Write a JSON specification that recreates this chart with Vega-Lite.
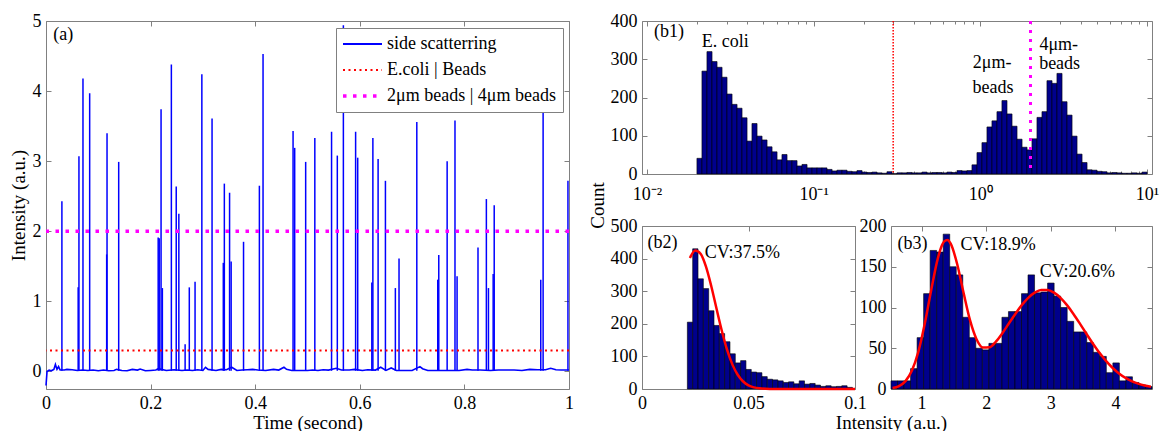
{
  "$schema": "https://vega.github.io/schema/vega-lite/v6.json",
  "background": "white",
  "padding": {"left": 8, "top": 11, "right": 0, "bottom": 0},
  "bounds": "flush",
  "spacing": 73,
  "config": {
    "font": "Liberation Serif",
    "view": {"stroke": "#808080", "strokeWidth": 1},
    "axis": {
      "grid": false, "domain": false, "tickColor": "#808080", "tickWidth": 1, "tickSize": -5,
      "labelPadding": 10, "labelFont": "Liberation Serif", "labelFontSize": 18, "labelColor": "#000",
      "titleFont": "Liberation Serif", "titleFontSize": 19, "titleFontWeight": "normal", "titleColor": "#000",
      "labelFlush": false, "labelOverlap": false
    },
    "axisX": {"labelPadding": 10},
    "text": {"font": "Liberation Serif", "fontSize": 18, "color": "#000"}
  },
  "hconcat": [
    {
      "width": 523, "height": 368,
      "layer": [
        {
          "data": {"values": [
            {"t":0,"v":-0.2},{"t":0.002,"v":0.0},{"t":0.006,"v":0.02},{"t":0.01,"v":0.01},{"t":0.015,"v":0.03},{"t":0.018,"v":0.1},{"t":0.021,"v":0.03},{"t":0.024,"v":0.07},{"t":0.027,"v":0.02},{"t":0.035,"v":0.02},{"t":0.04,"v":0.03},{"t":0.05,"v":0.025},{"t":0.06,"v":0.015},{"t":0.07,"v":0.02},{"t":0.08,"v":0.015},{"t":0.09,"v":0.02},{"t":0.1,"v":0.01},{"t":0.11,"v":0.02},{"t":0.12,"v":0.01},{"t":0.13,"v":0.015},{"t":0.135,"v":0.03},{"t":0.145,"v":0.015},{"t":0.155,"v":0.01},{"t":0.165,"v":0.03},{"t":0.175,"v":0.02},{"t":0.18,"v":0.035},{"t":0.19,"v":0.01},{"t":0.2,"v":0.015},{"t":0.21,"v":0.02},{"t":0.215,"v":0.04},{"t":0.23,"v":0.015},{"t":0.245,"v":0.025},{"t":0.26,"v":0.015},{"t":0.27,"v":0.02},{"t":0.28,"v":0.015},{"t":0.29,"v":0.025},{"t":0.3,"v":0.015},{"t":0.305,"v":0.06},{"t":0.31,"v":0.03},{"t":0.325,"v":0.015},{"t":0.335,"v":0.03},{"t":0.345,"v":0.025},{"t":0.355,"v":0.06},{"t":0.365,"v":0.015},{"t":0.375,"v":0.02},{"t":0.385,"v":0.025},{"t":0.395,"v":0.03},{"t":0.405,"v":0.02},{"t":0.42,"v":0.015},{"t":0.435,"v":0.03},{"t":0.445,"v":0.02},{"t":0.455,"v":0.06},{"t":0.46,"v":0.03},{"t":0.47,"v":0.015},{"t":0.485,"v":0.015},{"t":0.5,"v":0.015},{"t":0.51,"v":0.02},{"t":0.52,"v":0.015},{"t":0.53,"v":0.025},{"t":0.54,"v":0.02},{"t":0.555,"v":0.045},{"t":0.565,"v":0.02},{"t":0.58,"v":0.02},{"t":0.59,"v":0.03},{"t":0.605,"v":0.015},{"t":0.615,"v":0.025},{"t":0.63,"v":0.02},{"t":0.64,"v":0.06},{"t":0.65,"v":0.015},{"t":0.66,"v":0.05},{"t":0.67,"v":0.015},{"t":0.685,"v":0.015},{"t":0.7,"v":0.015},{"t":0.715,"v":0.07},{"t":0.72,"v":0.04},{"t":0.73,"v":0.015},{"t":0.745,"v":0.015},{"t":0.76,"v":0.015},{"t":0.775,"v":0.015},{"t":0.79,"v":0.015},{"t":0.805,"v":0.03},{"t":0.815,"v":0.02},{"t":0.83,"v":0.02},{"t":0.85,"v":0.015},{"t":0.865,"v":0.02},{"t":0.88,"v":0.02},{"t":0.895,"v":0.02},{"t":0.91,"v":0.015},{"t":0.925,"v":0.03},{"t":0.94,"v":0.025},{"t":0.955,"v":0.025},{"t":0.965,"v":0.045},{"t":0.975,"v":0.025},{"t":0.985,"v":0.02},{"t":1.0,"v":0.02}
          ]},
          "mark": {"type": "line", "strokeWidth": 1.6},
          "encoding": {
            "x": {"field": "t", "type": "quantitative", "scale": {"domain": [0, 1], "nice": false},
                  "axis": {"values": [0, 0.2, 0.4, 0.6, 0.8, 1], "format": "~g", "title": "Time (second)", "titleY": 33.5, "titleBaseline": "middle"}},
            "y": {"field": "v", "type": "quantitative", "scale": {"domain": [-0.25, 5], "nice": false, "zero": false},
                  "axis": {"values": [0, 1, 2, 3, 4, 5], "title": "Intensity (a.u.)", "titleX": -28, "titleBaseline": "middle"}},
            "color": {"datum": "side scatterring", "type": "nominal", "title": null,
                      "scale": {"domain": ["side scatterring", "E.coli | Beads", "2μm beads | 4μm beads"], "range": ["#0000ff", "#ff0000", "#ff00ff"]},
                      "legend": {
                        "orient": "none", "legendX": 290, "legendY": 7, "title": null,
                        "symbolType": "M-3.9,0H3.9", "symbolSize": 100, "symbolStrokeWidth": 2, "symbolOffset": 10.5,
                        "labelOffset": 15.6, "labelFont": "Liberation Serif", "labelFontSize": 18, "labelLimit": 400, "labelColor": "#000",
                        "rowPadding": 8, "padding": 7, "strokeColor": "#808080", "fillColor": "white", "cornerRadius": 0,
                        "encode": {"symbols": {"update": {
                          "strokeDash": {"signal": "datum.value === 'E.coli | Beads' ? [2, 3.5] : datum.value === '2μm beads | 4μm beads' ? [3.5, 6.5] : [1, 0]"},
                          "strokeWidth": {"signal": "datum.value === '2μm beads | 4μm beads' ? 3.5 : 2"},
                          "fill": {"value": "transparent"}
                        }}}
                      }}
          }
        },
        {
          "data": {"values": [
            {"t":0.0304,"p":2.43},{"t":0.0615,"p":1.2},{"t":0.063,"p":3.07},{"t":0.0707,"p":4.18},{"t":0.0835,"p":3.97},{"t":0.116,"p":1.67},{"t":0.1167,"p":3.4},{"t":0.139,"p":2.99},{"t":0.2145,"p":1.91},{"t":0.2165,"p":1.9},{"t":0.22,"p":3.74},{"t":0.2225,"p":1.19},{"t":0.2397,"p":4.38},{"t":0.249,"p":2.64},{"t":0.254,"p":2.25},{"t":0.266,"p":0.39},{"t":0.274,"p":1.2},{"t":0.285,"p":1.28},{"t":0.298,"p":4.24},{"t":0.3175,"p":3.61},{"t":0.339,"p":1.55},{"t":0.341,"p":2.68},{"t":0.351,"p":2.55},{"t":0.354,"p":1.57},{"t":0.3777,"p":1.85},{"t":0.408,"p":2.65},{"t":0.415,"p":4.53},{"t":0.4724,"p":3.43},{"t":0.4755,"p":3.19},{"t":0.4965,"p":2.99},{"t":0.514,"p":3.33},{"t":0.546,"p":3.42},{"t":0.557,"p":3.08},{"t":0.5686,"p":4.94},{"t":0.592,"p":3.42},{"t":0.596,"p":3.05},{"t":0.623,"p":1.27},{"t":0.625,"p":3.33},{"t":0.635,"p":3.03},{"t":0.649,"p":2.72},{"t":0.668,"p":1.19},{"t":0.675,"p":1.61},{"t":0.709,"p":3.56},{"t":0.749,"p":1.31},{"t":0.751,"p":1.66},{"t":0.767,"p":3.0},{"t":0.782,"p":3.58},{"t":0.786,"p":1.36},{"t":0.826,"p":1.77},{"t":0.842,"p":2.46},{"t":0.846,"p":1.19},{"t":0.855,"p":1.39},{"t":0.857,"p":2.37},{"t":0.946,"p":1.31},{"t":0.9505,"p":3.92},{"t":0.998,"p":2.72}
          ]},
          "mark": {"type": "rule", "color": "#0000ff", "strokeWidth": 1.5},
          "encoding": {
            "x": {"field": "t", "type": "quantitative", "axis": null},
            "y": {"field": "p", "type": "quantitative", "axis": null},
            "y2": {"datum": 0.01}
          }
        },
        {
          "data": {"values": [{"y": 0.3, "s": "E.coli | Beads"}]},
          "mark": {"type": "rule", "strokeWidth": 2, "strokeDash": [2, 3.5]},
          "encoding": {"y": {"field": "y", "type": "quantitative", "axis": null}, "color": {"field": "s", "type": "nominal", "title": null}}
        },
        {
          "data": {"values": [{"y": 2, "s": "2μm beads | 4μm beads"}]},
          "mark": {"type": "rule", "strokeWidth": 3.5, "strokeDash": [3.5, 6.5]},
          "encoding": {"y": {"field": "y", "type": "quantitative", "axis": null}, "color": {"field": "s", "type": "nominal", "title": null}}
        },
        {
          "data": {"values": [{"t": 0.014, "v": 4.8, "label": "(a)"}]},
          "mark": {"type": "text", "align": "left", "baseline": "middle"},
          "encoding": {"x": {"field": "t", "type": "quantitative", "axis": null}, "y": {"field": "v", "type": "quantitative", "axis": null}, "text": {"field": "label"}}
        },
        {
          "data": {"values": [{"t": 0.5, "v": 1}]},
          "mark": {"type": "point", "opacity": 0},
          "encoding": {
            "x": {"field": "t", "type": "quantitative", "axis": {"orient": "top", "labels": false, "title": null, "values": [0, 0.2, 0.4, 0.6, 0.8, 1]}},
            "y": {"field": "v", "type": "quantitative", "axis": {"orient": "right", "labels": false, "title": null, "values": [0, 1, 2, 3, 4, 5]}}
          }
        }
      ],
      "resolve": {"axis": {"x": "independent", "y": "independent"}}
    },
    {
      "bounds": "flush",
      "spacing": 52,
      "vconcat": [
        {
          "width": 510, "height": 153,
          "layer": [
            {
              "data": {"values": [
                {"x":0.02065,"n":41},{"x":0.02213,"n":269},{"x":0.02371,"n":320},{"x":0.02541,"n":294},{"x":0.02723,"n":279},{"x":0.02917,"n":253},{"x":0.03126,"n":209},{"x":0.0335,"n":182},{"x":0.03589,"n":172},{"x":0.03846,"n":147},{"x":0.04121,"n":86},{"x":0.04416,"n":132},{"x":0.04732,"n":99},{"x":0.0507,"n":89},{"x":0.05433,"n":71},{"x":0.05821,"n":58},{"x":0.06237,"n":37},{"x":0.06683,"n":51},{"x":0.07161,"n":35},{"x":0.07674,"n":35},{"x":0.08222,"n":21},{"x":0.08811,"n":25},{"x":0.09441,"n":16},
                {"x":0.1012,"n":16},{"x":0.1084,"n":16},{"x":0.1161,"n":16},{"x":0.1245,"n":12},{"x":0.1334,"n":8},{"x":0.1429,"n":10},{"x":0.1531,"n":10},{"x":0.1641,"n":7},{"x":0.1758,"n":6},{"x":0.1884,"n":9},{"x":0.2018,"n":5},{"x":0.2163,"n":4},{"x":0.2317,"n":5},{"x":0.2483,"n":3},{"x":0.2661,"n":2},{"x":0.2851,"n":6},{"x":0.3055,"n":1},{"x":0.3273,"n":3},{"x":0.3508,"n":3},{"x":0.3758,"n":4},{"x":0.4027,"n":3},{"x":0.4315,"n":3},{"x":0.4624,"n":5},{"x":0.4955,"n":3},{"x":0.5309,"n":4},{"x":0.5689,"n":4},{"x":0.6095,"n":3},{"x":0.6531,"n":5},{"x":0.6998,"n":4},{"x":0.7499,"n":9},{"x":0.8035,"n":8},{"x":0.861,"n":9},{"x":0.9226,"n":24},{"x":0.9886,"n":56},
                {"x":1.059,"n":82},{"x":1.135,"n":123},{"x":1.216,"n":139},{"x":1.303,"n":163},{"x":1.396,"n":192},{"x":1.496,"n":157},{"x":1.603,"n":125},{"x":1.718,"n":91},{"x":1.841,"n":70},{"x":1.972,"n":63},{"x":2.114,"n":92},{"x":2.265,"n":148},{"x":2.427,"n":163},{"x":2.6,"n":244},{"x":2.786,"n":237},{"x":2.985,"n":263},{"x":3.199,"n":189},{"x":3.428,"n":154},{"x":3.673,"n":99},{"x":3.936,"n":52},{"x":4.217,"n":30},{"x":4.519,"n":11},{"x":4.842,"n":10},{"x":5.188,"n":7},{"x":5.559,"n":6},{"x":5.957,"n":3},{"x":6.383,"n":4},{"x":6.839,"n":3},{"x":7.328,"n":2},{"x":7.852,"n":2},{"x":8.414,"n":3},{"x":9.016,"n":2},{"x":9.661,"n":5}
              ]},
              "mark": {"type": "bar", "size": 5.1, "fill": "#00008c", "stroke": "#000000", "strokeWidth": 0.6},
              "encoding": {
                "x": {"field": "x", "type": "quantitative", "scale": {"type": "log", "domain": [0.01, 10], "nice": false},
                      "axis": {"values": [0.01,0.02,0.03,0.04,0.05,0.06,0.07,0.08,0.09,0.1,0.2,0.3,0.4,0.5,0.6,0.7,0.8,0.9,1,2,3,4,5,6,7,8,9,10],
                               "labelExpr": "datum.value == 0.01 ? '10⁻²' : datum.value == 0.1 ? '10⁻¹' : datum.value == 1 ? '10⁰' : datum.value == 10 ? '10¹' : ''",
                               "tickSize": {"condition": {"test": "datum.value == 0.01 || datum.value == 0.1 || datum.value == 1 || datum.value == 10", "value": -5}, "value": -3},
                               "labelPadding": 16,
                               "title": null}},
                "y": {"field": "n", "type": "quantitative", "scale": {"domain": [0, 400], "nice": false},
                      "axis": {"values": [0, 100, 200, 300, 400], "title": "Count", "titleX": -45, "titleY": 184, "titleBaseline": "middle"}},
                "y2": {"datum": 0}
              }
            },
            {
              "data": {"values": [{"x": 0.3}]},
              "mark": {"type": "rule", "color": "#ff0000", "strokeWidth": 1.5, "strokeDash": [1.5, 1.5]},
              "encoding": {"x": {"field": "x", "type": "quantitative", "axis": null}}
            },
            {
              "data": {"values": [{"x": 2}]},
              "mark": {"type": "rule", "color": "#ff00ff", "strokeWidth": 3, "strokeDash": [3, 6]},
              "encoding": {"x": {"field": "x", "type": "quantitative", "axis": null}}
            },
            {
              "data": {"values": [{"x": 0.011, "y": 371, "label": "(b1)"}, {"x": 0.0213, "y": 345, "label": "E. coli"}]},
              "mark": {"type": "text", "align": "left", "baseline": "middle"},
              "encoding": {"x": {"field": "x", "type": "quantitative", "axis": null}, "y": {"field": "y", "type": "quantitative", "axis": null}, "text": {"field": "label"}}
            },
            {
              "data": {"values": [{"x": 1.177, "y": 290, "label": "2μm-"}, {"x": 1.19, "y": 225, "label": "beads"}, {"x": 2.955, "y": 337, "label": "4μm-"}, {"x": 2.99, "y": 288, "label": "beads"}]},
              "mark": {"type": "text", "align": "center", "baseline": "middle"},
              "encoding": {"x": {"field": "x", "type": "quantitative", "axis": null}, "y": {"field": "y", "type": "quantitative", "axis": null}, "text": {"field": "label"}}
            },
            {
              "data": {"values": [{"x": 1, "n": 100}]},
              "mark": {"type": "point", "opacity": 0},
              "encoding": {
                "x": {"field": "x", "type": "quantitative", "axis": {"orient": "top", "labels": false, "title": null,
                      "values": [0.01,0.02,0.03,0.04,0.05,0.06,0.07,0.08,0.09,0.1,0.2,0.3,0.4,0.5,0.6,0.7,0.8,0.9,1,2,3,4,5,6,7,8,9,10],
                      "tickSize": {"condition": {"test": "datum.value == 0.01 || datum.value == 0.1 || datum.value == 1 || datum.value == 10", "value": -5}, "value": -3}}},
                "y": {"field": "n", "type": "quantitative", "axis": {"orient": "right", "labels": false, "title": null, "values": [0, 100, 200, 300, 400]}}
              }
            }
          ],
          "resolve": {"axis": {"x": "independent", "y": "independent"}}
        },
        {
          "bounds": "flush",
          "spacing": 36,
          "hconcat": [
            {
              "width": 213, "height": 163,
              "layer": [
                {
                  "data": {"values": [
                    {"lo":0.0213,"hi":0.0238,"n":205},{"lo":0.0238,"hi":0.0263,"n":430},{"lo":0.0263,"hi":0.0288,"n":338},{"lo":0.0288,"hi":0.0313,"n":308},{"lo":0.0313,"hi":0.0338,"n":240},{"lo":0.0338,"hi":0.0363,"n":195},{"lo":0.0363,"hi":0.0388,"n":170},{"lo":0.0388,"hi":0.0413,"n":145},{"lo":0.0413,"hi":0.0438,"n":108},{"lo":0.0438,"hi":0.0463,"n":80},{"lo":0.0463,"hi":0.0488,"n":87},{"lo":0.0488,"hi":0.0513,"n":60},{"lo":0.0513,"hi":0.0538,"n":52},{"lo":0.0538,"hi":0.0563,"n":50},{"lo":0.0563,"hi":0.0588,"n":38},{"lo":0.0588,"hi":0.0613,"n":30},{"lo":0.0613,"hi":0.0638,"n":28},{"lo":0.0638,"hi":0.0663,"n":25},{"lo":0.0663,"hi":0.0688,"n":20},{"lo":0.0688,"hi":0.0713,"n":22},{"lo":0.0713,"hi":0.0738,"n":16},{"lo":0.0738,"hi":0.0763,"n":25},{"lo":0.0763,"hi":0.0788,"n":15},{"lo":0.0788,"hi":0.0813,"n":17},{"lo":0.0813,"hi":0.0838,"n":12},{"lo":0.0838,"hi":0.0863,"n":8},{"lo":0.0863,"hi":0.0888,"n":10},{"lo":0.0888,"hi":0.0913,"n":7},{"lo":0.0913,"hi":0.0938,"n":8},{"lo":0.0938,"hi":0.0963,"n":10},{"lo":0.0963,"hi":0.0988,"n":5}
                  ]},
                  "mark": {"type": "bar", "fill": "#00008c", "stroke": "#000000", "strokeWidth": 0.6},
                  "encoding": {
                    "x": {"field": "lo", "type": "quantitative", "scale": {"domain": [0, 0.1], "nice": false},
                          "axis": {"values": [0, 0.05, 0.1], "format": "~g", "title": "Intensity (a.u.)", "titleX": 249, "titleY": 33.5, "titleBaseline": "middle"}},
                    "x2": {"field": "hi"},
                    "y": {"field": "n", "type": "quantitative", "scale": {"domain": [0, 500], "nice": false},
                          "axis": {"values": [0, 100, 200, 300, 400, 500], "title": null}},
                    "y2": {"datum": 0}
                  }
                },
                {
                  "data": {"values": [
                    {"x":0.0225,"y":402},{"x":0.025,"y":425},{"x":0.0275,"y":415},{"x":0.03,"y":376},{"x":0.0325,"y":316},{"x":0.035,"y":246},{"x":0.0375,"y":178},{"x":0.04,"y":119},{"x":0.0425,"y":74},{"x":0.045,"y":43},{"x":0.0475,"y":23},{"x":0.05,"y":11},{"x":0.0525,"y":5},{"x":0.055,"y":2},{"x":0.06,"y":0.3},{"x":0.07,"y":0},{"x":0.08,"y":0},{"x":0.09,"y":0},{"x":0.1,"y":0}
                  ]},
                  "mark": {"type": "line", "color": "#ff0000", "strokeWidth": 2.5, "interpolate": "monotone"},
                  "encoding": {"x": {"field": "x", "type": "quantitative", "axis": null}, "y": {"field": "y", "type": "quantitative", "axis": null}}
                },
                {
                  "data": {"values": [{"x": 0.0026, "y": 449, "label": "(b2)"}, {"x": 0.0295, "y": 418, "label": "CV:37.5%"}]},
                  "mark": {"type": "text", "align": "left", "baseline": "middle"},
                  "encoding": {"x": {"field": "x", "type": "quantitative", "axis": null}, "y": {"field": "y", "type": "quantitative", "axis": null}, "text": {"field": "label"}}
                },
                {
                  "data": {"values": [{"x": 0.05, "y": 100}]},
                  "mark": {"type": "point", "opacity": 0},
                  "encoding": {
                    "x": {"field": "x", "type": "quantitative", "axis": {"orient": "top", "labels": false, "title": null, "values": [0, 0.05, 0.1]}},
                    "y": {"field": "y", "type": "quantitative", "axis": {"orient": "right", "labels": false, "title": null, "values": [0, 100, 200, 300, 400, 500]}}
                  }
                }
              ],
              "resolve": {"axis": {"x": "independent", "y": "independent"}}
            },
            {
              "width": 261, "height": 163,
              "layer": [
                {
                  "data": {"values": [
                    {"lo":0.526,"hi":0.627,"n":10},{"lo":0.627,"hi":0.728,"n":10},{"lo":0.728,"hi":0.829,"n":10},{"lo":0.829,"hi":0.93,"n":25},{"lo":0.93,"hi":1.031,"n":63},{"lo":1.031,"hi":1.132,"n":117},{"lo":1.132,"hi":1.233,"n":170},{"lo":1.233,"hi":1.334,"n":168},{"lo":1.334,"hi":1.435,"n":190},{"lo":1.435,"hi":1.536,"n":150},{"lo":1.536,"hi":1.637,"n":140},{"lo":1.637,"hi":1.738,"n":88},{"lo":1.738,"hi":1.839,"n":63},{"lo":1.839,"hi":1.94,"n":50},{"lo":1.94,"hi":2.041,"n":48},{"lo":2.041,"hi":2.142,"n":56},{"lo":2.142,"hi":2.243,"n":56},{"lo":2.243,"hi":2.344,"n":88},{"lo":2.344,"hi":2.445,"n":95},{"lo":2.445,"hi":2.546,"n":95},{"lo":2.546,"hi":2.647,"n":117},{"lo":2.647,"hi":2.748,"n":140},{"lo":2.748,"hi":2.849,"n":118},{"lo":2.849,"hi":2.95,"n":119},{"lo":2.95,"hi":3.051,"n":130},{"lo":3.051,"hi":3.152,"n":114},{"lo":3.152,"hi":3.253,"n":100},{"lo":3.253,"hi":3.354,"n":83},{"lo":3.354,"hi":3.455,"n":70},{"lo":3.455,"hi":3.556,"n":70},{"lo":3.556,"hi":3.657,"n":57},{"lo":3.657,"hi":3.758,"n":45},{"lo":3.758,"hi":3.859,"n":40},{"lo":3.859,"hi":3.96,"n":20},{"lo":3.96,"hi":4.061,"n":32},{"lo":4.061,"hi":4.162,"n":10},{"lo":4.162,"hi":4.263,"n":15},{"lo":4.263,"hi":4.364,"n":8},{"lo":4.364,"hi":4.465,"n":5},{"lo":4.465,"hi":4.566,"n":3}
                  ]},
                  "mark": {"type": "bar", "fill": "#00008c", "stroke": "#000000", "strokeWidth": 0.6},
                  "encoding": {
                    "x": {"field": "lo", "type": "quantitative", "scale": {"domain": [0.526, 4.566], "nice": false, "zero": false},
                          "axis": {"values": [1, 2, 3, 4], "title": null}},
                    "x2": {"field": "hi"},
                    "y": {"field": "n", "type": "quantitative", "scale": {"domain": [0, 200], "nice": false},
                          "axis": {"values": [0, 50, 100, 150, 200], "title": null}},
                    "y2": {"datum": 0}
                  }
                },
                {
                  "data": {"values": [
                    {"x":0.55,"y":1.2},{"x":0.65,"y":3.6},{"x":0.75,"y":9.7},{"x":0.85,"y":22.6},{"x":0.95,"y":45.9},{"x":1.05,"y":80.6},{"x":1.15,"y":122.1},{"x":1.25,"y":159.9},{"x":1.3,"y":173.3},{"x":1.35,"y":181.1},{"x":1.4,"y":182.9},{"x":1.45,"y":178.3},{"x":1.55,"y":153.4},{"x":1.65,"y":117.7},{"x":1.75,"y":84.1},{"x":1.85,"y":61.1},{"x":1.95,"y":50.9},{"x":2.05,"y":51.2},{"x":2.15,"y":58.1},{"x":2.25,"y":68.5},{"x":2.35,"y":80.4},{"x":2.45,"y":92.1},{"x":2.55,"y":102.9},{"x":2.65,"y":111.9},{"x":2.75,"y":118.2},{"x":2.85,"y":121.6},{"x":2.95,"y":121.6},{"x":3.05,"y":118.2},{"x":3.15,"y":111.9},{"x":3.25,"y":102.9},{"x":3.35,"y":92.1},{"x":3.45,"y":80.2},{"x":3.55,"y":67.8},{"x":3.65,"y":55.9},{"x":3.75,"y":44.7},{"x":3.85,"y":34.8},{"x":3.95,"y":26.4},{"x":4.05,"y":19.4},{"x":4.15,"y":13.9},{"x":4.25,"y":9.7},{"x":4.35,"y":6.6},{"x":4.45,"y":4.3},{"x":4.55,"y":2.8}
                  ]},
                  "mark": {"type": "line", "color": "#ff0000", "strokeWidth": 2.5, "interpolate": "monotone"},
                  "encoding": {"x": {"field": "x", "type": "quantitative", "axis": null}, "y": {"field": "y", "type": "quantitative", "axis": null}}
                },
                {
                  "data": {"values": [{"x": 0.627, "y": 178.5, "label": "(b3)"}, {"x": 1.602, "y": 176.6, "label": "CV:18.9%"}, {"x": 2.828, "y": 144, "label": "CV:20.6%"}]},
                  "mark": {"type": "text", "align": "left", "baseline": "middle"},
                  "encoding": {"x": {"field": "x", "type": "quantitative", "axis": null}, "y": {"field": "y", "type": "quantitative", "axis": null}, "text": {"field": "label"}}
                },
                {
                  "data": {"values": [{"x": 2, "y": 100}]},
                  "mark": {"type": "point", "opacity": 0},
                  "encoding": {
                    "x": {"field": "x", "type": "quantitative", "axis": {"orient": "top", "labels": false, "title": null, "values": [1, 2, 3, 4]}},
                    "y": {"field": "y", "type": "quantitative", "axis": {"orient": "right", "labels": false, "title": null, "values": [0, 50, 100, 150, 200]}}
                  }
                }
              ],
              "resolve": {"axis": {"x": "independent", "y": "independent"}}
            }
          ]
        }
      ]
    }
  ]
}
